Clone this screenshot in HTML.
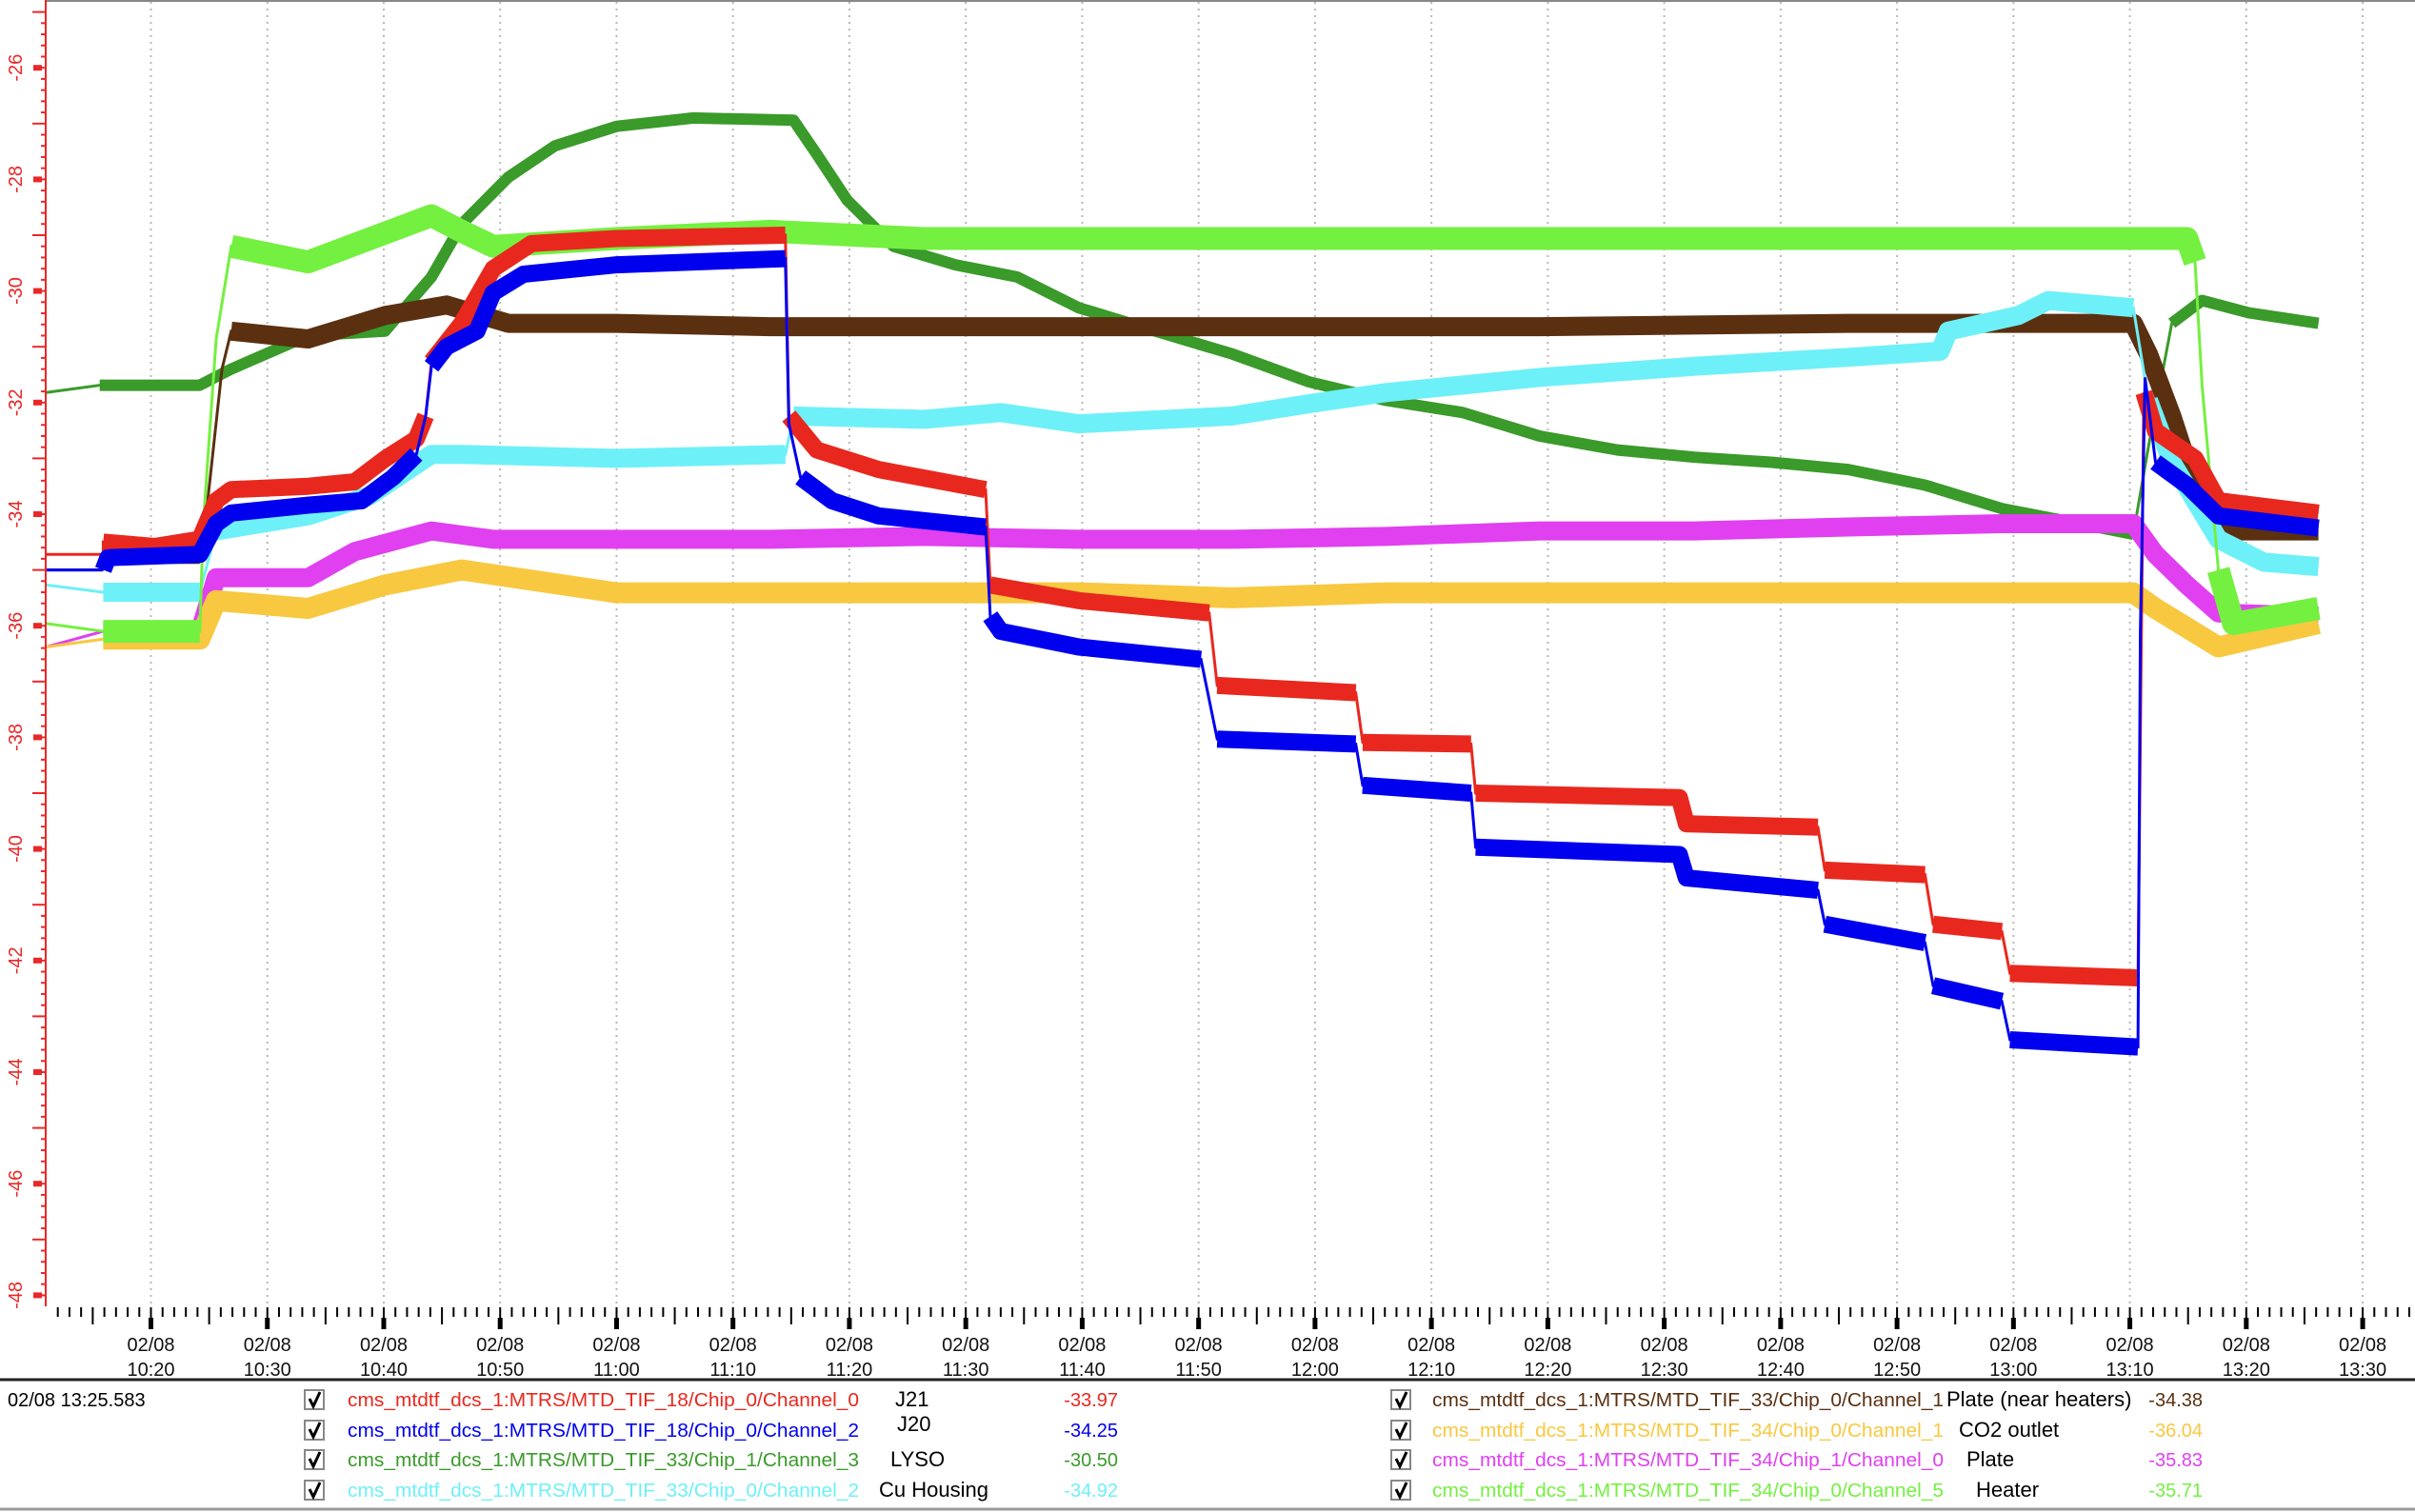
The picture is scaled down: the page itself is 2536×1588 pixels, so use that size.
<!DOCTYPE html>
<html>
<head>
<meta charset="utf-8">
<style>
  html, body { margin: 0; padding: 0; background: #fff; }
  svg { display: block; font-family: "Liberation Sans", sans-serif; }
</style>
</head>
<body>
<svg id="chart" width="2536" height="1588" viewBox="0 0 2536 1588" xmlns="http://www.w3.org/2000/svg">
  <rect x="0" y="0" width="2536" height="1588" fill="#ffffff"/>
  <line x1="48" y1="1" x2="2536" y2="1" stroke="#888" stroke-width="2"/>
  <g id="grid"></g>
  <g id="series"></g>
  <g id="yaxis"></g>
  <g id="xaxis"></g>
  <line x1="0" y1="1449" x2="2536" y2="1449" stroke="#222" stroke-width="3"/>
  <line x1="0" y1="1585" x2="2536" y2="1585" stroke="#999" stroke-width="3"/>
  <text x="8" y="1477" font-size="20" fill="#000">02/08 13:25.583</text>
  <g id="legend"></g>
</svg>
<script>
// ---- data (time in minutes since 10:20, values in °C) ----
const redT = [-9,-4.1,-4.1,0.3,4.2,5.6,6.9,13.5,17.5,20.1,22.8,23.6,24.1,26.7,29.4,32.7,40,54.5,54.8,57.2,62.5,71.7,72.1,79.7,90.9,91.6,103.5,104.1,113.4,113.8,131.3,131.9,143.2,143.8,152.4,153.1,159,159.7,170.7,171.2,172.2,175.6,177.6,186.2];
const redV = [-34.72,-34.72,-34.5,-34.58,-34.45,-33.76,-33.56,-33.5,-33.42,-33.01,-32.65,-32.24,-31.27,-30.58,-29.6,-29.15,-29.06,-29.0,-32.24,-32.85,-33.2,-33.56,-35.27,-35.55,-35.77,-37.07,-37.2,-38.09,-38.12,-39.0,-39.08,-39.55,-39.61,-40.38,-40.46,-41.35,-41.48,-42.23,-42.31,-31.82,-32.51,-33.0,-33.76,-33.98];
const blueT = [-9,-4.1,-3.7,4.2,5.6,6.9,13.5,18.1,20.8,22.8,23.6,24.1,25.4,28,29.4,32,40,54.5,54.8,55.8,58.5,62.5,71.7,72.1,73,79.7,90.2,91.6,103.5,104.1,113.4,113.8,131.3,131.9,143.2,143.8,152.4,153.1,159,159.7,170.7,170.9,171.3,172.2,174.9,177.6,186.2];
const blueV = [-35.0,-35.0,-34.78,-34.72,-34.17,-33.98,-33.84,-33.76,-33.34,-32.93,-32.24,-31.35,-31.0,-30.72,-30.03,-29.7,-29.53,-29.42,-32.38,-33.34,-33.76,-34.03,-34.23,-35.83,-36.1,-36.38,-36.6,-38.03,-38.12,-38.86,-39.0,-39.97,-40.1,-40.52,-40.74,-41.35,-41.68,-42.45,-42.73,-43.42,-43.55,-36.1,-31.55,-33.07,-33.48,-34.03,-34.25];
const lysoT = [-9,-4.4,4.2,6.9,13.5,20.1,24.1,26.7,30.7,34.7,40,46.6,55.2,57.2,59.8,63.8,69.1,74.4,79.7,86.3,92.9,99.5,106.1,112.7,119.3,126,132.6,139.2,145.8,152.4,159,165.7,170.3,171.6,173.6,176.2,180.2,186.2];
const lysoV = [-31.82,-31.69,-31.69,-31.4,-30.8,-30.72,-29.75,-28.8,-27.96,-27.4,-27.05,-26.9,-26.94,-27.55,-28.37,-29.2,-29.53,-29.75,-30.3,-30.72,-31.13,-31.63,-31.96,-32.18,-32.6,-32.85,-32.98,-33.07,-33.2,-33.48,-33.9,-34.17,-34.36,-32.79,-30.58,-30.17,-30.39,-30.58];
const cuT = [-9,-4.1,4.2,5.6,13.5,18.8,24.1,26.7,40,54.5,55.2,66.4,73,79.7,92.9,99.5,106.1,119.3,132.6,145.8,153.7,154.4,160.4,163,170.3,171.6,173.6,177.6,181.5,186.2];
const cuV = [-35.27,-35.4,-35.4,-34.3,-34.03,-33.67,-32.93,-32.93,-33.0,-32.93,-32.24,-32.3,-32.18,-32.38,-32.24,-32.02,-31.82,-31.55,-31.35,-31.19,-31.08,-30.72,-30.44,-30.17,-30.3,-31.96,-33.07,-34.45,-34.86,-34.94];
const plateHT = [-9,-4.1,-4.1,4.2,4.8,6.1,6.9,13.5,20.1,25.4,30.7,40,53.2,66.4,92.9,119.3,145.8,170.3,171.6,173.6,176.2,178.9,186.2];
const plateHV = [-35.0,-35.0,-34.72,-34.72,-33.9,-31.4,-30.72,-30.86,-30.44,-30.25,-30.58,-30.58,-30.64,-30.64,-30.64,-30.64,-30.58,-30.58,-31.13,-32.24,-33.9,-34.3,-34.3];
const plateT = [-9,-4.1,4.2,5.6,13.5,17.5,24.1,29.4,40,53.2,66.4,79.7,92.9,106.1,119.3,132.6,145.8,159,170.3,172.2,174.9,177.6,186.2];
const plateV = [-36.38,-36.1,-36.1,-35.14,-35.14,-34.67,-34.3,-34.45,-34.45,-34.45,-34.4,-34.45,-34.45,-34.4,-34.3,-34.3,-34.23,-34.17,-34.17,-34.72,-35.27,-35.77,-35.83];
const co2T = [-9,-4.1,4.2,5.6,13.5,20.1,26.7,40,53.2,66.4,79.7,92.9,106.1,119.3,132.6,145.8,170.3,172.2,177.6,186.2];
const co2V = [-36.38,-36.24,-36.24,-35.55,-35.69,-35.27,-35.0,-35.41,-35.41,-35.41,-35.41,-35.5,-35.41,-35.41,-35.41,-35.41,-35.41,-35.69,-36.38,-35.96];
const heaterT = [-9,-4.1,4.2,4.5,5.6,6.9,13.5,24.1,26.7,29.4,40,53.2,66.4,92.9,119.3,145.8,174.9,175.6,176.2,177.6,178.9,186.2];
const heaterV = [-35.96,-36.1,-36.1,-34.17,-30.86,-29.2,-29.48,-28.65,-28.93,-29.2,-29.06,-28.93,-29.06,-29.06,-29.06,-29.06,-29.06,-29.48,-31.69,-35.0,-35.96,-35.69];

const yTickLabels = ["-48","-46","-44","-42","-40","-38","-36","-34","-32","-30","-28","-26"];
const xTickLabels = ["10:20","10:30","10:40","10:50","11:00","11:10","11:20","11:30","11:40","11:50","12:00","12:10","12:20","12:30","12:40","12:50","13:00","13:10","13:20","13:30"];
const legendNames = ["cms_mtdtf_dcs_1:MTRS/MTD_TIF_18/Chip_0/Channel_0","cms_mtdtf_dcs_1:MTRS/MTD_TIF_18/Chip_0/Channel_2","cms_mtdtf_dcs_1:MTRS/MTD_TIF_33/Chip_1/Channel_3","cms_mtdtf_dcs_1:MTRS/MTD_TIF_33/Chip_0/Channel_2","cms_mtdtf_dcs_1:MTRS/MTD_TIF_33/Chip_0/Channel_1","cms_mtdtf_dcs_1:MTRS/MTD_TIF_34/Chip_0/Channel_1","cms_mtdtf_dcs_1:MTRS/MTD_TIF_34/Chip_1/Channel_0","cms_mtdtf_dcs_1:MTRS/MTD_TIF_34/Chip_0/Channel_5"];
const legendLabels = ["J21","J20","LYSO","Cu Housing","Plate (near heaters)","CO2 outlet","Plate","Heater"];
const legendValues = ["-33.97","-34.25","-30.50","-34.92","-34.38","-36.04","-35.83","-35.71"];

// ---- axis functions ----
const NS = "http://www.w3.org/2000/svg";
function xs(t){ return 158.5 + 12.224*t; }
function ys(v){ return 71.2 + 58.6*(-26 - v); }
function mk(tag, attrs, parent){ const e=document.createElementNS(NS,tag); for(const k in attrs) e.setAttribute(k,attrs[k]); parent.appendChild(e); return e; }

const grid = document.getElementById('grid');
const xaxis = document.getElementById('xaxis');
const yaxis = document.getElementById('yaxis');
const seriesG = document.getElementById('series');
const legend = document.getElementById('legend');

// vertical grid + x ticks
for (let m=-9; m<=197; m++){
  const x = xs(m);
  if (x < 50 || x > 2534) continue;
  if (m % 10 === 0){
    const g = mk('line',{x1:x,y1:2,x2:x,y2:1372,stroke:'#b8b8b8','stroke-width':2,'stroke-dasharray':'2,5'},grid);
    
    
    const t = mk('line',{x1:x,y1:1373,x2:x,y2:1395,stroke:'#000','stroke-width':2},xaxis);
    
    
    const tb = mk('rect',{x:x-2.5,y:1384,width:5,height:12,fill:'#000'},xaxis);
    
    
  } else {
    const len = (m % 5 === 0) ? 18 : 10;
    const t = mk('line',{x1:x,y1:1373,x2:x,y2:1373+len,stroke:'#000','stroke-width':2},xaxis);
    
    
  }
}
xTickLabels.forEach((lab,i)=>{
  const x = xs(i*10);
  const d = mk('text',{x:x,y:1419,'font-size':20,'text-anchor':'middle',fill:'#111'},xaxis);
  d.textContent = '02/08';
  
  
  const tt = mk('text',{x:x,y:1445,'font-size':20,'text-anchor':'middle',fill:'#111'},xaxis);
  tt.textContent = lab;
  
  
});

// y axis
const yl = mk('line',{x1:48,y1:0,x2:48,y2:1372,stroke:'#e82828','stroke-width':2},yaxis);


for (let i=-240; i<=-124; i++){
  const v = i/5, y = ys(v);
  if (y < 2) continue;
  if (i % 10 === 0){
    const r = mk('rect',{x:35,y:y-3,width:9,height:6,fill:'#e82828'},yaxis);
    
    
    const l = mk('line',{x1:35,y1:y,x2:48,y2:y,stroke:'#e82828','stroke-width':2},yaxis);
    
    
  } else {
    const x1 = (i % 5 === 0) ? 34 : 43;
    const l = mk('line',{x1:x1,y1:y,x2:48,y2:y,stroke:'#e82828','stroke-width':2},yaxis);
    
    
  }
}
yTickLabels.forEach(lab=>{
  const y = ys(parseFloat(lab));
  const t = mk('text',{x:0,y:0,'font-size':20,'text-anchor':'middle',fill:'#e82828',transform:`translate(23,${y}) rotate(-90)`},yaxis);
  t.textContent = lab;
  
  
});

// series
function drawSeries(T, V, color, width, name){
  const g = mk('g',{},seriesG);
  
  
  const lead = mk('line',{x1:xs(T[0]),y1:ys(V[0]),x2:xs(T[1]),y2:ys(V[1]),stroke:color,'stroke-width':3},g);
  
  
  let d = '';
  for (let i=1;i<T.length;i++) d += (i===1?'M':'L') + xs(T[i]).toFixed(1) + ',' + ys(V[i]).toFixed(1);
  const thin = mk('path',{d:d,fill:'none',stroke:color,'stroke-width':3},g);
  
  
  // thick band runs, broken at steep jumps
  let run = '';
  function flush(){
    if (run){
      const p = mk('path',{d:run,fill:'none',stroke:color,'stroke-width':width,'stroke-linejoin':'round','stroke-linecap':'butt'},g);
      
      
    }
    run = '';
  }
  for (let i=1;i<T.length-1;i++){
    const x1=xs(T[i]), y1=ys(V[i]), x2=xs(T[i+1]), y2=ys(V[i+1]);
    const steep = Math.abs(y2-y1) > 3*Math.abs(x2-x1)+10;
    if (steep){ flush(); continue; }
    if (!run) run = 'M' + x1.toFixed(1) + ',' + y1.toFixed(1);
    run += 'L' + x2.toFixed(1) + ',' + y2.toFixed(1);
  }
  flush();
}
drawSeries(lysoT, lysoV, '#3a9a2a', 12, 'series-lyso');
drawSeries(plateHT, plateHV, '#5a3010', 20, 'series-plate-near-heaters');
drawSeries(cuT, cuV, '#6ef0f8', 20, 'series-cu-housing');
drawSeries(plateT, plateV, '#e040f0', 20, 'series-plate');
drawSeries(co2T, co2V, '#f8c840', 22, 'series-co2-outlet');
drawSeries(heaterT, heaterV, '#74f040', 24, 'series-heater');
drawSeries(redT, redV, '#e8281e', 18, 'series-j21');
drawSeries(blueT, blueV, '#0000ee', 18, 'series-j20');

// legend
const legColors = ['#e8281e','#0000ee','#3a9a2a','#6ef0f8','#5a3010','#f8c840','#e040f0','#74f040'];
const rowY = [1470,1502,1533,1565];
const cols = [
  {cb:320, name:365, nameEnd:902, lab:[940,942,935,923], val:1174},
  {cb:1461, name:1504, nameEnd:2041, lab:[2044,2057,2065,2075], val:2313}
];
for (let i=0;i<8;i++){
  const c = cols[Math.floor(i/4)], r = i%4, y = rowY[r];
  const cb = mk('rect',{x:c.cb,y:y-10,width:20,height:20,fill:'#fff',stroke:'#888','stroke-width':2},legend);
  
  
  const ck = mk('path',{d:`M${c.cb+5},${y-1} L${c.cb+9},${y+7} L${c.cb+16},${y-8}`,fill:'none',stroke:'#000','stroke-width':3},legend);
  
  
  const nm = mk('text',{x:c.name,y:y+7,'font-size':20,fill:legColors[i],textLength:c.nameEnd-c.name,lengthAdjust:'spacingAndGlyphs'},legend);
  nm.textContent = legendNames[i];
  
  
  const lb = mk('text',{x:c.lab[r],y:(i===1?y+1:y+7),'font-size':22,fill:'#000'},legend);
  lb.textContent = legendLabels[i];
  
  
  const vl = mk('text',{x:c.val,y:y+7,'font-size':20,'text-anchor':'end',fill:legColors[i]},legend);
  vl.textContent = legendValues[i];
  
  
}
</script>
</body>
</html>
